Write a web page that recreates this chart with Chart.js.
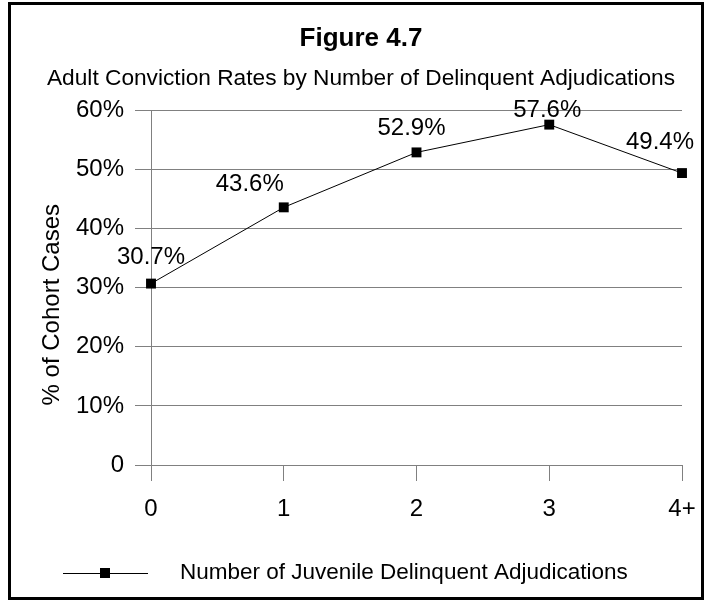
<!DOCTYPE html>
<html lang="en">
<head>
    <meta charset="UTF-8">
    <title>Figure 4.7</title>
    <style>
        body {
            margin: 0;
            padding: 0;
            background: #fff;
        }

        .frame {
            position: absolute;
            left: 8px;
            top: 2px;
            width: 696px;
            height: 598px;
            border: 3px solid #000;
            box-sizing: border-box;
        }

        #chart {
            position: absolute;
            left: 0;
            top: 0;
        }
    </style>
    <script src="https://cdn.jsdelivr.net/npm/chart.js"></script>
</head>
<body>
    <div class="frame"></div>
    <canvas id="chart" width="704" height="600"></canvas>
    <script>
        // Données du graphique
        const categories = ['0', '1', '2', '3', '4+'];
        const convictionRates = [30.7, 43.6, 52.9, 57.6, 49.4];
        const yTicks = [0, 10, 20, 30, 40, 50, 60];
        const seriesLabel = 'Number of Juvenile Delinquent Adjudications';
        const yTitle = '% of Cohort Cases';

        const FONT = "'Liberation Sans', Arial, sans-serif";
        const GRID = '#808080';

        // Décalage des étiquettes de valeur par rapport aux points
        const labelShift = [[0, -26], [-34, -23], [-5, -24], [-2, -14], [-22, -31]];

        // Étiquettes de valeur, titre de l'axe Y et légende dessinés à la main
        const decorPlugin = {
            id: 'decor',
            afterDatasetsDraw(chart) {
                const ctx = chart.ctx;
                const area = chart.chartArea;
                const meta = chart.getDatasetMeta(0);
                ctx.save();
                ctx.font = '24px ' + FONT;
                ctx.fillStyle = '#000';
                ctx.textAlign = 'center';
                ctx.textBaseline = 'middle';
                meta.data.forEach((pt, i) => {
                    const s = labelShift[i] || [0, -24];
                    ctx.fillText(convictionRates[i].toFixed(1) + '%', pt.x + s[0], pt.y + s[1]);
                });

                // Titre de l'axe Y (un peu sous le milieu, comme l'original)
                ctx.save();
                ctx.translate(52, (area.top + area.bottom) / 2 + 17);
                ctx.rotate(-Math.PI / 2);
                ctx.fillText(yTitle, 0, 0);
                ctx.restore();

                // Légende
                const ly = 573;
                ctx.strokeStyle = '#000';
                ctx.lineWidth = 1;
                ctx.beginPath();
                ctx.moveTo(63, ly + 0.5);
                ctx.lineTo(148, ly + 0.5);
                ctx.stroke();
                ctx.fillRect(100, ly - 5, 10, 10);
                ctx.font = '22.5px ' + FONT;
                ctx.textAlign = 'left';
                ctx.fillText(seriesLabel, 180, ly);
                ctx.restore();
            }
        };

        const ctx = document.getElementById('chart').getContext('2d');
        new Chart(ctx, {
            type: 'line',
            data: {
                labels: categories,
                datasets: [{
                    label: seriesLabel,
                    data: convictionRates,
                    borderColor: '#000',
                    borderWidth: 1,
                    backgroundColor: '#000',
                    pointStyle: 'rect',
                    pointRadius: 7,
                    pointHoverRadius: 7,
                    pointBorderWidth: 0,
                    tension: 0,
                    clip: false
                }]
            },
            options: {
                responsive: false,
                animation: false,
                layout: {
                    padding: { left: 40, right: 22, top: 0, bottom: 0 }
                },
                plugins: {
                    legend: { display: false },
                    tooltip: { enabled: false },
                    title: {
                        display: true,
                        text: 'Figure 4.7',
                        color: '#000',
                        font: { family: FONT, size: 26, weight: 'bold' },
                        padding: { top: 23, bottom: 11 }
                    },
                    subtitle: {
                        display: true,
                        text: 'Adult Conviction Rates by Number of Delinquent Adjudications',
                        color: '#000',
                        font: { family: FONT, size: 22.7 },
                        padding: { top: 0, bottom: 18 }
                    }
                },
                scales: {
                    x: {
                        offset: false,
                        grid: {
                            drawOnChartArea: false,
                            drawTicks: true,
                            tickLength: 16,
                            color: GRID
                        },
                        border: { display: false },
                        ticks: {
                            color: '#000',
                            padding: 14,
                            maxRotation: 0,
                            font: { family: FONT, size: 24 }
                        },
                        afterFit(scale) {
                            scale.height = 135;
                            scale.paddingLeft = 0;
                            scale.paddingRight = 0;
                        }
                    },
                    y: {
                        min: 0,
                        max: 60,
                        afterBuildTicks(scale) {
                            scale.ticks = yTicks.map(v => ({ value: v }));
                        },
                        grid: {
                            color: GRID,
                            tickLength: 16
                        },
                        border: { display: true, color: GRID },
                        ticks: {
                            color: '#000',
                            padding: 11,
                            font: { family: FONT, size: 24 },
                            callback: v => (v === 0 ? '0' : v + '%')
                        },
                        afterFit(scale) {
                            scale.width = 111;
                        }
                    }
                }
            },
            plugins: [decorPlugin]
        });
    </script>
</body>
</html>
